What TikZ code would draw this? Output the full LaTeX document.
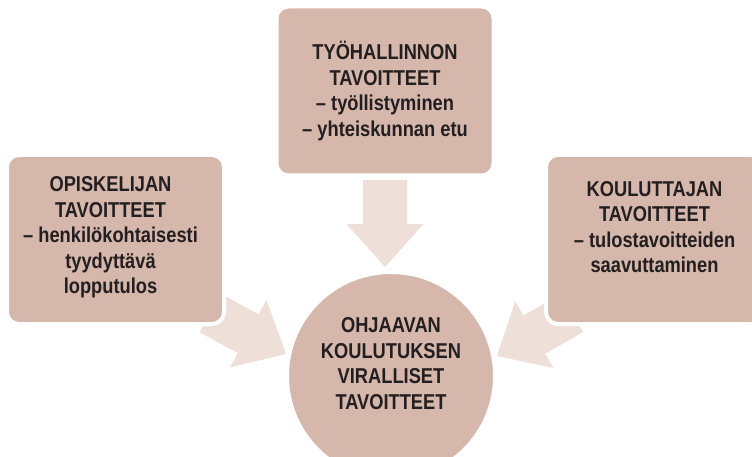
\documentclass[tikz,border=0pt]{standalone}
\usepackage{fontspec}
\setmainfont{Liberation Sans}[FakeStretch=0.85]
\usepackage{tikz}
\usepackage{xcolor}
\usetikzlibrary{calc, backgrounds}
\definecolor{boxfill}{RGB}{214,183,171}
\definecolor{arrowfill}{RGB}{238,223,216}
\definecolor{textdark}{RGB}{35,31,32}

\tikzset{
  goalbox/.style={rectangle, rounded corners=12pt, fill=boxfill, draw=white, line width=4pt,
    minimum width=217pt, minimum height=169pt, inner sep=0pt, align=center, text=textdark,
    font=\fontsize{21.5}{25.5}\selectfont\bfseries},
  goalcircle/.style={circle, fill=boxfill, draw=white, line width=4pt, minimum size=208pt,
    inner sep=0pt, align=center, text=textdark, font=\fontsize{21.5}{25.5}\selectfont\bfseries},
  goaltext/.style={inner sep=0pt, align=center, text=textdark,
    font=\fontsize{21.5}{25.5}\selectfont\bfseries},
  arrowbody/.style={fill=arrowfill}
}

% block arrow from #1 to tip #2
\newcommand{\blockarrow}[2]{%
  \coordinate (neck) at ($(#2)!43pt!(#1)$);
  \fill[arrowbody] ($(#1)!22pt!90:(#2)$) -- ($(neck)!22pt!90:(#2)$)
    -- ($(neck)!38.5pt!90:(#2)$) -- (#2) -- ($(neck)!38.5pt!-90:(#2)$)
    -- ($(neck)!22pt!-90:(#2)$) -- ($(#1)!22pt!-90:(#2)$) -- cycle;
}

\begin{document}
\begin{tikzpicture}[x=1pt, y=-1pt]
  \path[use as bounding box] (0,0) rectangle (752,457);
  \clip (0,0) rectangle (752,457);

  % goals
  \node[goalbox] (tyo) at (385,91) {TYÖHALLINNON\\TAVOITTEET\\– työllistyminen\\– yhteiskunnan etu};
  \node[goalbox] (opisk) at (115.5,239.5) {};
  \node[goaltext] (opisk-text) at ([xshift=-5pt, yshift=2pt]opisk.center) {OPISKELIJAN\\TAVOITTEET\\– henkilökohtaisesti\\tyydyttävä\\lopputulos};
  \node[goalbox, text depth=25pt] (koul) at (654.5,239.5) {KOULUTTAJAN\\TAVOITTEET\\– tulostavoitteiden\\saavuttaminen};
  \node[goalcircle, text depth=25pt] (ohj) at (391,376) {OHJAAVAN\\KOULUTUKSEN\\VIRALLISET\\TAVOITTEET};

  % arrow ends
  \coordinate (tyo-out) at (385,180);
  \coordinate (tyo-in) at (385,267);
  \coordinate (opisk-out) at (210,313);
  \coordinate (opisk-in) at (286,354);
  \coordinate (koul-out) at (572,313);
  \coordinate (koul-in) at (497,356);

  \begin{scope}[on background layer]
    \blockarrow{tyo-out}{tyo-in}
    \blockarrow{opisk-out}{opisk-in}
    \blockarrow{koul-out}{koul-in}
  \end{scope}
\end{tikzpicture}
\end{document}
